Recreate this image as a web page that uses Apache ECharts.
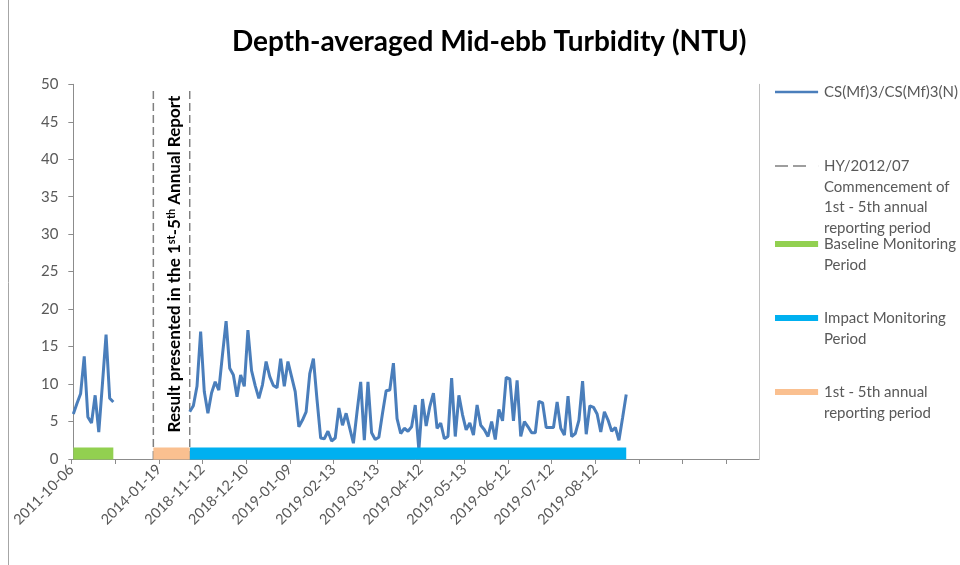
<!DOCTYPE html>
<html><head><meta charset="utf-8">
<script src="https://cdn.jsdelivr.net/npm/echarts@6/dist/echarts.min.js"></script>
<style>html,body{margin:0;padding:0;background:#fff}#c{width:960px;height:565px}</style>
</head><body><div id="c"></div>
<script>
// ---- data ----
const titleText = 'Depth-averaged Mid-ebb Turbidity (NTU)';
const tickLabels = ['2011-10-06', '', '2014-01-19', '2018-11-12', '2018-12-10', '2019-01-09',
  '2019-02-13', '2019-03-13', '2019-04-12', '2019-05-13', '2019-06-12', '2019-07-12',
  '2019-08-12', '', '', ''];
const catsPerTick = 12;
const categoryCount = 189;

const baselineStart = 0;
const baselineValues = [6.0, 7.4, 8.7, 13.7, 5.6, 4.8, 8.5, 3.6, 10.0, 16.6, 8.1, 7.6];

const impactStart = 32;
const impactValues = [
  6.3, 7.1, 9.7, 17.0, 9.0, 6.1, 8.8, 10.3, 9.2, 13.9,
  18.4, 12.1, 11.2, 8.3, 11.2, 9.7, 17.2, 11.8, 9.8, 8.1,
  9.9, 13.0, 11.0, 9.8, 9.5, 13.4, 9.7, 13.0, 11.0, 9.0,
  4.3, 5.2, 6.3, 11.4, 13.4, 7.9, 2.8, 2.7, 3.7, 2.4,
  2.8, 6.8, 4.5, 6.1, 4.1, 2.1, 6.3, 10.3, 2.5, 10.3,
  3.5, 2.6, 2.9, 6.1, 9.1, 9.2, 12.8, 5.4, 3.4, 4.1,
  3.7, 4.3, 7.2, 1.2, 8.0, 4.4, 7.0, 8.8, 4.1, 4.8,
  2.7, 3.0, 10.8, 3.0, 8.5, 5.9, 3.9, 4.8, 3.2, 7.2,
  4.5, 3.9, 3.0, 5.0, 2.6, 6.6, 5.1, 10.9, 10.7, 5.1,
  10.5, 3.0, 5.0, 4.3, 3.5, 3.5, 7.7, 7.5, 4.2, 4.2,
  4.2, 7.6, 4.1, 3.2, 8.4, 3.0, 3.4, 5.2, 10.4, 3.3,
  7.1, 6.9, 6.0, 3.6, 6.3, 5.2, 3.7, 4.2, 2.5, 5.5,
  8.6
];

const reportLineIdx = [22, 32];
const reportLineTop = 49.5;
const baselinePeriod = [0, 11];
const reportPeriod = [22, 32];
const impactPeriod = [32, 152];
const periodLevel = 0.75;

const nameStation = 'CS(Mf)3/CS(Mf)3(N)';
const nameHY = 'HY/2012/07 Commencement of 1st - 5th annual reporting period';
const nameBaseline = 'Baseline Monitoring Period';
const nameImpact = 'Impact Monitoring Period';
const nameReport = '1st - 5th annual reporting period';

const legendLines = [
  [nameStation, ['CS(Mf)3/CS(Mf)3(N)']],
  [nameHY, ['HY/2012/07', 'Commencement of', '1st - 5th annual', 'reporting period']],
  [nameBaseline, ['Baseline Monitoring', 'Period']],
  [nameImpact, ['Impact Monitoring', 'Period']],
  [nameReport, ['1st - 5th annual', 'reporting period']]
];

// ---- layout ----
const legendIconY = [92, 166, 244, 318, 392];
const legendIcons = [
  'path://M0,0h43v2.5h-43zM43.9,0h0.1v2.5h-0.1z',
  'path://M0,0h13v1.5h-13zM18,0h13v1.5h-13zM43.9,0h0.1v1.5h-0.1z',
  'path://M0,0h43v6h-43zM43.9,0h0.1v6h-0.1z',
  'path://M0,0h43v6h-43zM43.9,0h0.1v6h-0.1z',
  'path://M0,0h43v6h-43zM43.9,0h0.1v6h-0.1z'
];
const legendIconH = [2.5, 1.5, 6, 6, 6];
const LH = 20.8;
const FONT = 'Lato';

const tickVals = tickLabels.map((_, k) => k * catsPerTick - 0.5);

const stationData = baselineValues.map((v, k) => [baselineStart + k, v])
  .concat([[baselineStart + baselineValues.length, null]])
  .concat(impactValues.map((v, k) => [impactStart + k, v]));

const dashData = [];
reportLineIdx.forEach((x, k) => {
  if (k) dashData.push([x, null]);
  dashData.push([x, 0], [x, reportLineTop]);
});
const periodData = p => [[p[0], periodLevel], [p[1], periodLevel]];

const chart = echarts.init(document.getElementById('c'), null, {renderer: 'canvas'});
chart.setOption({
  animation: false,
  backgroundColor: '#fff',
  title: {
    text: titleText, left: 232, top: 28, padding: 0,
    textStyle: {fontFamily: FONT, fontWeight: 'bold', fontSize: 28, color: '#000'}
  },
  legend: legendLines.map((e, i) => {
    const n = e[1].length;
    return {
      data: [e[0]], orient: 'vertical', left: 775,
      top: legendIconY[i] - (2 * n - 1) * LH / 2, padding: 0,
      itemWidth: 44, itemHeight: legendIconH[i], itemGap: 0,
      icon: legendIcons[i], symbolKeepAspect: false,
      selectedMode: false,
      formatter: () => '\n'.repeat(n - 1) + e[1].join('\n'),
      textStyle: {fontFamily: FONT, fontSize: 15, color: '#595959', lineHeight: LH}
    };
  }),
  grid: {left: 71.5, right: 201, top: 84.3, bottom: 106},
  xAxis: {
    type: 'value', min: -0.5, max: categoryCount - 0.5,
    splitLine: {show: false},
    axisLine: {show: true, onZero: false, lineStyle: {color: '#8c8c8c', width: 1}},
    axisTick: {show: true, customValues: tickVals, length: 5, lineStyle: {color: '#8c8c8c'}},
    axisLabel: {
      customValues: tickVals, rotate: 45, margin: 8,
      formatter: v => tickLabels[Math.round((v + 0.5) / catsPerTick)] || '',
      fontFamily: FONT, fontSize: 14.5, color: '#595959'
    }
  },
  yAxis: [{
    type: 'value', min: 0, max: 50, interval: 5,
    splitLine: {show: false},
    axisLine: {show: true, lineStyle: {color: '#8c8c8c'}},
    axisTick: {show: true, length: 5, lineStyle: {color: '#8c8c8c'}},
    axisLabel: {fontFamily: FONT, fontSize: 15, color: '#595959', margin: 13}
  }, {
    type: 'value', min: 0, max: 50, position: 'right',
    splitLine: {show: false},
    axisLine: {show: true, lineStyle: {color: '#c0c0c0'}},
    axisTick: {show: false}, axisLabel: {show: false}
  }],
  series: [
    {name: nameStation, type: 'line', data: stationData, symbol: 'none', z: 3,
     lineStyle: {color: '#4a7ebb', width: 3}, itemStyle: {color: '#4a7ebb'}},
    {name: nameHY, type: 'line', data: dashData, symbol: 'none', z: 2,
     lineStyle: {color: '#7f7f7f', width: 1.5, type: [8, 4]}, itemStyle: {color: '#7f7f7f'}},
    {name: nameBaseline, type: 'line', data: periodData(baselinePeriod), symbol: 'none', z: 4,
     lineStyle: {color: '#92d050', width: 12, cap: 'butt'}, itemStyle: {color: '#92d050'}},
    {name: nameImpact, type: 'line', data: periodData(impactPeriod), symbol: 'none', z: 4,
     lineStyle: {color: '#00b0f0', width: 12, cap: 'butt'}, itemStyle: {color: '#00b0f0'}},
    {name: nameReport, type: 'line', data: periodData(reportPeriod), symbol: 'none', z: 4,
     lineStyle: {color: '#fac090', width: 12, cap: 'butt'}, itemStyle: {color: '#fac090'}}
  ],
  graphic: [
    {type: 'line', shape: {x1: 8.5, y1: 0, x2: 8.5, y2: 565}, style: {stroke: '#a6a6a6', lineWidth: 1}},
    {type: 'text', x: 174.5, y: 264, rotation: Math.PI / 2, z: 10,
     style: {
       text: 'Result presented in the 1{sup|st}-5{sup|th} Annual Report',
       fontFamily: FONT, fontWeight: 'bold', fontSize: 17, fill: '#000',
       align: 'center', verticalAlign: 'middle',
       rich: {sup: {fontFamily: FONT, fontWeight: 'bold', fontSize: 11, verticalAlign: 'top', fill: '#000'}}
     }}
  ]
});
</script></body></html>
